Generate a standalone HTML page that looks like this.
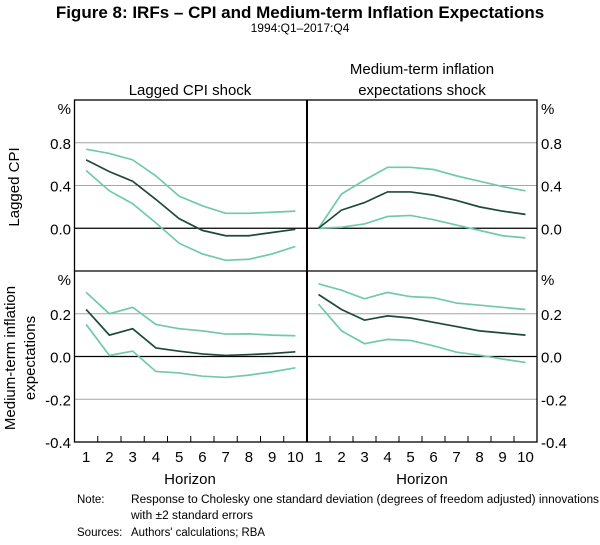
<!DOCTYPE html>
<html><head><meta charset="utf-8"><style>
body{margin:0;background:#fff;width:600px;height:540px;overflow:hidden;font-family:"Liberation Sans",sans-serif;}
svg text{font-family:"Liberation Sans",sans-serif;}
</style></head><body>
<svg id="c" width="600" height="540" xmlns="http://www.w3.org/2000/svg">
<text x="300" y="18" text-anchor="middle" font-size="17" font-weight="bold" fill="#000">Figure 8: IRFs – CPI and Medium-term Inflation Expectations</text>
<text x="300" y="32" text-anchor="middle" font-size="12" fill="#000">1994:Q1–2017:Q4</text>
<text x="190" y="95" text-anchor="middle" font-size="15" fill="#000">Lagged CPI shock</text>
<text x="422" y="74" text-anchor="middle" font-size="15" fill="#000">Medium-term inflation</text>
<text x="422" y="95" text-anchor="middle" font-size="15" fill="#000">expectations shock</text>
<text transform="translate(19,187) rotate(-90)" text-anchor="middle" font-size="15" fill="#000">Lagged CPI</text>
<text transform="translate(15,358) rotate(-90)" text-anchor="middle" font-size="15" fill="#000">Medium-term inflation</text>
<text transform="translate(35,358) rotate(-90)" text-anchor="middle" font-size="15" fill="#000">expectations</text>
<text x="190" y="484" text-anchor="middle" font-size="15" fill="#000">Horizon</text>
<text x="422" y="484" text-anchor="middle" font-size="15" fill="#000">Horizon</text>
<g font-size="11.5" fill="#000">
<text x="77" y="503">Note:</text>
<text x="131" y="503" textLength="468" lengthAdjust="spacingAndGlyphs">Response to Cholesky one standard deviation (degrees of freedom adjusted) innovations</text>
<text x="131" y="519" textLength="122" lengthAdjust="spacingAndGlyphs">with ±2 standard errors</text>
<text x="77" y="536">Sources:</text>
<text x="131" y="536" textLength="134" lengthAdjust="spacingAndGlyphs">Authors' calculations; RBA</text>
</g>
<g id="plot"></g>
</svg>
<script>
const horizons=[1,2,3,4,5,6,7,8,9,10];
const cpiCpiMid=[0.64,0.53,0.44,0.27,0.09,-0.02,-0.07,-0.07,-0.04,-0.01];
const cpiCpiUp=[0.74,0.70,0.64,0.49,0.30,0.21,0.14,0.14,0.15,0.16];
const cpiCpiLo=[0.54,0.35,0.23,0.05,-0.14,-0.24,-0.30,-0.29,-0.24,-0.17];
const expCpiMid=[0,0.17,0.24,0.34,0.34,0.31,0.26,0.20,0.16,0.13];
const expCpiUp=[0,0.32,0.45,0.57,0.57,0.55,0.49,0.44,0.39,0.35];
const expCpiLo=[0,0.01,0.04,0.11,0.12,0.08,0.03,-0.02,-0.07,-0.09];
const cpiExpMid=[0.22,0.10,0.13,0.04,0.025,0.012,0.005,0.009,0.014,0.022];
const cpiExpUp=[0.30,0.20,0.23,0.15,0.13,0.12,0.105,0.106,0.10,0.097];
const cpiExpLo=[0.15,0.005,0.025,-0.07,-0.077,-0.092,-0.098,-0.087,-0.072,-0.053];
const expExpMid=[0.29,0.22,0.17,0.19,0.18,0.16,0.14,0.12,0.11,0.10];
const expExpUp=[0.34,0.31,0.27,0.30,0.28,0.275,0.25,0.24,0.23,0.22];
const expExpLo=[0.245,0.12,0.06,0.08,0.075,0.05,0.02,0.006,-0.012,-0.028];
const topTicks=[-0.4,0.0,0.4,0.8];
const topTickLabels=["","0.0","0.4","0.8"];
const botTicks=[-0.4,-0.2,0.0,0.2];
const botTickLabels=["-0.4","-0.2","0.0","0.2"];

const NS="http://www.w3.org/2000/svg";
const g=document.getElementById('plot');
const L=74.5,M=307,R=537,T=100,MID=271,B=442;
function mk(tag,at){const e=document.createElementNS(NS,tag);for(const k in at)e.setAttribute(k,at[k]);g.appendChild(e);return e;}
const yTop=v=>T+(1.2-v)/1.6*(MID-T);
const yBot=v=>MID+(0.4-v)/0.8*(B-MID);
const xL=i=>L+(M-L)/10*(i-0.5);
const xR=i=>M+(R-M)/10*(i-0.5);

topTicks.forEach((v,k)=>{
  const y=yTop(v);
  if(v>-0.4){const ln=mk('line',{x1:L,x2:R,y1:y,y2:y,stroke:v===0?'#000':'#a6a6a6','stroke-width':v===0?1.3:1});
  
  }
  if(topTickLabels[k]){
  const t1=mk('text',{x:71,y:y+6,'text-anchor':'end','font-size':15,fill:'#000'});t1.textContent=topTickLabels[k];
  
  
  const t2=mk('text',{x:541,y:y+6,'font-size':15,fill:'#000'});t2.textContent=topTickLabels[k];
  
  }
});
botTicks.forEach((v,k)=>{
  const y=yBot(v);
  if(v>-0.4){const ln=mk('line',{x1:L,x2:R,y1:y,y2:y,stroke:v===0?'#000':'#a6a6a6','stroke-width':v===0?1.3:1});
  
  }
  const t1=mk('text',{x:71,y:y+6,'text-anchor':'end','font-size':15,fill:'#000'});t1.textContent=botTickLabels[k];
  
  
  const t2=mk('text',{x:541,y:y+6,'font-size':15,fill:'#000'});t2.textContent=botTickLabels[k];
  
  
});
[[T,'top'],[MID,'bottom']].forEach(([y0,p])=>{
  const a=mk('text',{x:71,y:y0+14,'text-anchor':'end','font-size':15,fill:'#000'});a.textContent='%';
  
  
  const b=mk('text',{x:541,y:y0+14,'font-size':15,fill:'#000'});b.textContent='%';
  
  
});
function series(arr,xf,yf,color,name){
  const p=mk('polyline',{points:arr.map((v,i)=>xf(horizons[i])+','+yf(v)).join(' '),fill:'none',stroke:color,'stroke-width':1.7});
  
  
}
const TEAL='#70c9ad',DARK='#1e4a3b';
series(cpiCpiUp,xL,yTop,TEAL,'cpi-shock-cpi-upper');
series(cpiCpiLo,xL,yTop,TEAL,'cpi-shock-cpi-lower');
series(cpiCpiMid,xL,yTop,DARK,'cpi-shock-cpi-response');
series(expCpiUp,xR,yTop,TEAL,'exp-shock-cpi-upper');
series(expCpiLo,xR,yTop,TEAL,'exp-shock-cpi-lower');
series(expCpiMid,xR,yTop,DARK,'exp-shock-cpi-response');
series(cpiExpUp,xL,yBot,TEAL,'cpi-shock-exp-upper');
series(cpiExpLo,xL,yBot,TEAL,'cpi-shock-exp-lower');
series(cpiExpMid,xL,yBot,DARK,'cpi-shock-exp-response');
series(expExpUp,xR,yBot,TEAL,'exp-shock-exp-upper');
series(expExpLo,xR,yBot,TEAL,'exp-shock-exp-lower');
series(expExpMid,xR,yBot,DARK,'exp-shock-exp-response');
const fr=mk('rect',{x:L,y:T,width:R-L,height:B-T,fill:'none',stroke:'#000','stroke-width':1.3});


const mh=mk('line',{x1:L,x2:R,y1:MID,y2:MID,stroke:'#000','stroke-width':1.3});


const mv=mk('line',{x1:M,x2:M,y1:T,y2:B,stroke:'#000','stroke-width':2});


for(let i=1;i<10;i++){
  [L+(M-L)/10*i,M+(R-M)/10*i].forEach(x=>{
    const t=mk('line',{x1:x,x2:x,y1:B,y2:B-6,stroke:'#000','stroke-width':1});
    
    
  });
}
horizons.forEach(h=>{
  [xL(h),xR(h)].forEach(x=>{
    const t=mk('text',{x:x,y:462,'text-anchor':'middle','font-size':15,fill:'#000'});t.textContent=h;
    
    
  });
});
</script>
</body></html>
